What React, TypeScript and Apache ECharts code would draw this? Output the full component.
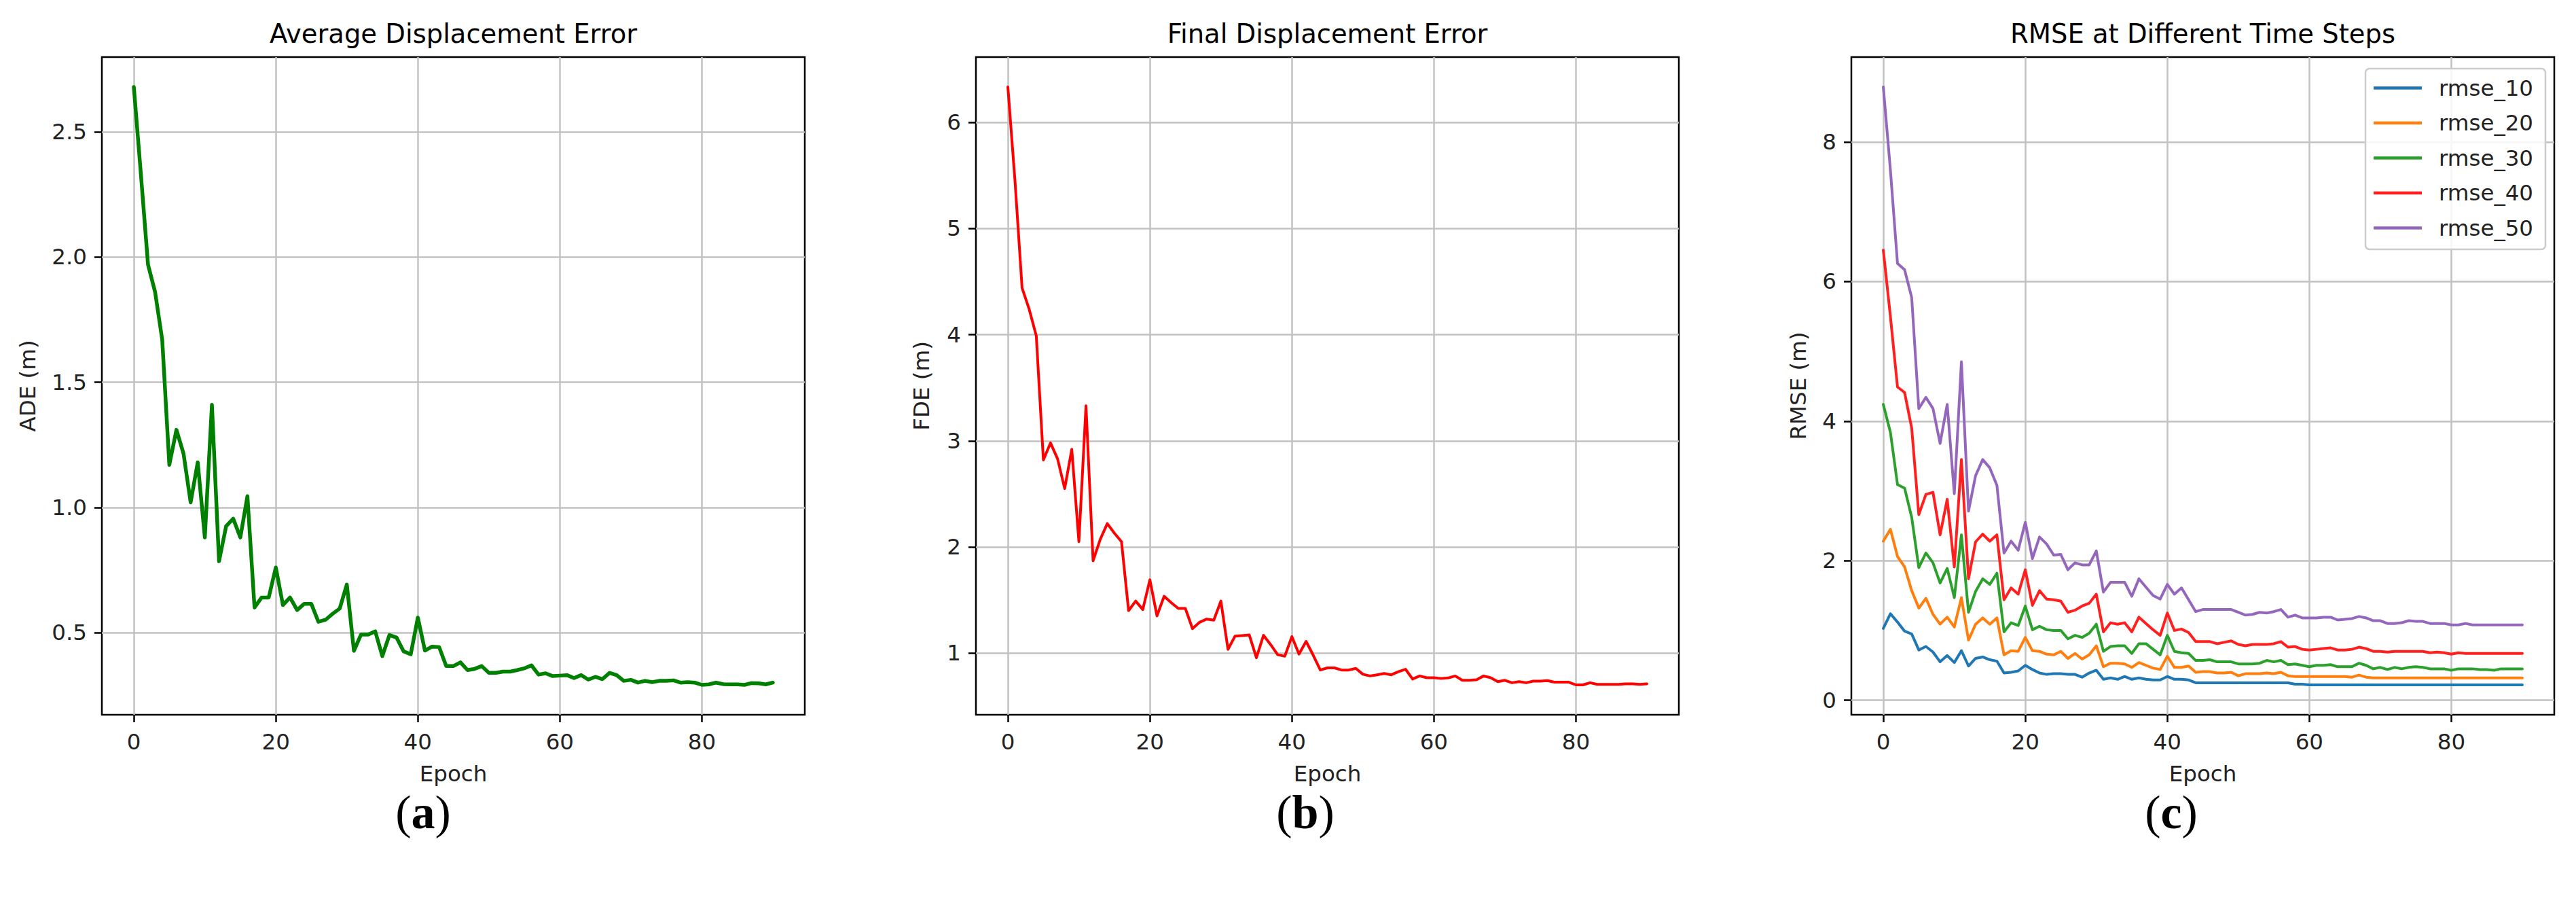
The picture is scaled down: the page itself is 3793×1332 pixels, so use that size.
import React, { useEffect, useRef } from 'react';
import * as echarts from 'echarts';

// ---------------- data ----------------
const EPOCHS = Array.from({ length: 91 }, (_, i) => i);

const ADE = [
  2.68, 2.33, 1.97, 1.86, 1.67, 1.17, 1.31, 1.215, 1.02, 1.18,
  0.88, 1.41, 0.785, 0.925, 0.955, 0.88, 1.045, 0.6, 0.64, 0.64,
  0.76, 0.61, 0.64, 0.59, 0.615, 0.615, 0.543, 0.551, 0.575, 0.596,
  0.692, 0.427, 0.492, 0.492, 0.505, 0.406, 0.49, 0.48, 0.425, 0.413,
  0.56, 0.428, 0.444, 0.442, 0.366, 0.366, 0.381, 0.35, 0.355, 0.366,
  0.339, 0.339, 0.344, 0.344, 0.35, 0.357, 0.369, 0.332, 0.337, 0.326,
  0.328, 0.33, 0.318, 0.33, 0.312, 0.323, 0.314, 0.339, 0.33, 0.307,
  0.311, 0.3, 0.307, 0.302, 0.307, 0.307, 0.309, 0.3, 0.302, 0.3,
  0.291, 0.293, 0.3, 0.294, 0.293, 0.293, 0.291, 0.298, 0.297, 0.293, 0.3,
];

const FDE = [
  6.335, 5.45, 4.44, 4.24, 3.99, 2.82, 2.98, 2.83, 2.55, 2.92,
  2.05, 3.33, 1.87, 2.07, 2.22, 2.13, 2.05, 1.4, 1.49, 1.41,
  1.69, 1.35, 1.535, 1.475, 1.42, 1.42, 1.23, 1.29, 1.32, 1.31,
  1.49, 1.035, 1.16, 1.165, 1.17, 0.955, 1.167, 1.08, 0.984, 0.97,
  1.155, 0.99, 1.11, 0.98, 0.84, 0.86, 0.86, 0.84, 0.84, 0.855,
  0.8, 0.784, 0.795, 0.807, 0.795, 0.824, 0.847, 0.755, 0.784, 0.767,
  0.767, 0.76, 0.765, 0.784, 0.743, 0.743, 0.748, 0.784, 0.767, 0.73,
  0.743, 0.72, 0.73, 0.72, 0.735, 0.735, 0.74, 0.725, 0.725, 0.725,
  0.7, 0.7, 0.72, 0.705, 0.705, 0.705, 0.705, 0.71, 0.71, 0.705, 0.71,
];

const RMSE_10 = [
  1.03, 1.24, 1.12, 0.99, 0.95, 0.72, 0.77, 0.69, 0.55, 0.64,
  0.54, 0.71, 0.49, 0.6, 0.62, 0.58, 0.56, 0.39, 0.4, 0.42,
  0.5, 0.44, 0.39, 0.37, 0.38, 0.38, 0.37, 0.37, 0.33, 0.39,
  0.43, 0.3, 0.32, 0.3, 0.34, 0.3, 0.32, 0.3, 0.29, 0.29,
  0.34, 0.3, 0.3, 0.29, 0.25, 0.25, 0.25, 0.25, 0.25, 0.25,
  0.25, 0.25, 0.25, 0.25, 0.25, 0.25, 0.25, 0.25, 0.23, 0.23,
  0.22, 0.22, 0.22, 0.22, 0.22, 0.22, 0.22, 0.22, 0.22, 0.22,
  0.22, 0.22, 0.22, 0.22, 0.22, 0.22, 0.22, 0.22, 0.22, 0.22,
  0.22, 0.22, 0.22, 0.22, 0.22, 0.22, 0.22, 0.22, 0.22, 0.22, 0.22,
];

const RMSE_20 = [
  2.28, 2.45, 2.06, 1.91, 1.57, 1.32, 1.46, 1.23, 1.09, 1.19,
  1.05, 1.47, 0.86, 1.09, 1.18, 1.09, 1.18, 0.65, 0.71, 0.7,
  0.9, 0.71, 0.7, 0.66, 0.65, 0.7, 0.6, 0.67, 0.59, 0.65,
  0.78, 0.48, 0.53, 0.53, 0.52, 0.47, 0.54, 0.5, 0.46, 0.44,
  0.63, 0.47, 0.47, 0.49, 0.4, 0.41, 0.41, 0.39, 0.39, 0.4,
  0.35, 0.38, 0.38, 0.38, 0.39, 0.38, 0.4, 0.35, 0.34, 0.34,
  0.34, 0.34, 0.34, 0.34, 0.34, 0.34, 0.33, 0.36, 0.33, 0.32,
  0.32, 0.32, 0.32, 0.32, 0.32, 0.32, 0.32, 0.32, 0.32, 0.32,
  0.32, 0.32, 0.32, 0.32, 0.32, 0.32, 0.32, 0.32, 0.32, 0.32, 0.32,
];

const RMSE_30 = [
  4.24, 3.84, 3.09, 3.04, 2.62, 1.9, 2.11, 1.97, 1.68, 1.89,
  1.47, 2.37, 1.26, 1.56, 1.74, 1.66, 1.82, 0.98, 1.11, 1.07,
  1.35, 1.01, 1.06, 1.01, 1.0, 1.0, 0.88, 0.93, 0.9, 0.96,
  1.09, 0.7, 0.77, 0.78, 0.78, 0.67, 0.81, 0.81, 0.73, 0.65,
  0.93, 0.7, 0.68, 0.67, 0.57, 0.57, 0.58, 0.55, 0.55, 0.55,
  0.52, 0.52, 0.52, 0.53, 0.57, 0.55, 0.57, 0.51, 0.52, 0.5,
  0.48, 0.5, 0.5, 0.51, 0.48, 0.48, 0.48, 0.53, 0.5, 0.45,
  0.47, 0.44, 0.47, 0.45, 0.47, 0.48, 0.47, 0.45, 0.45, 0.45,
  0.43, 0.45, 0.45, 0.45, 0.44, 0.44, 0.43, 0.45, 0.45, 0.45, 0.45,
];

const RMSE_40 = [
  6.45, 5.5, 4.49, 4.41, 3.9, 2.66, 2.95, 2.98, 2.37, 2.88,
  1.91, 3.45, 1.74, 2.27, 2.38, 2.28, 2.37, 1.44, 1.61, 1.52,
  1.87, 1.36, 1.57, 1.45, 1.44, 1.42, 1.26, 1.29, 1.35, 1.39,
  1.52, 0.98, 1.11, 1.09, 1.11, 0.98, 1.19, 1.1, 1.01, 0.93,
  1.25, 1.0, 1.02, 0.97, 0.84, 0.84, 0.84, 0.81, 0.83, 0.85,
  0.8, 0.78, 0.8, 0.8, 0.8, 0.81, 0.84, 0.76, 0.77, 0.73,
  0.72, 0.73, 0.74, 0.75, 0.72, 0.72, 0.73, 0.76, 0.74, 0.7,
  0.7, 0.69, 0.7, 0.7, 0.7, 0.7, 0.7, 0.68, 0.69, 0.68,
  0.66, 0.68, 0.67, 0.67, 0.67, 0.67, 0.67, 0.67, 0.67, 0.67, 0.67,
];

const RMSE_50 = [
  8.79, 7.6, 6.26, 6.17, 5.77, 4.18, 4.34, 4.18, 3.68, 4.24,
  2.96, 4.85, 2.71, 3.22, 3.45, 3.33, 3.08, 2.11, 2.28, 2.15,
  2.55, 2.03, 2.34, 2.24, 2.08, 2.09, 1.87, 1.97, 1.94, 1.94,
  2.14, 1.55, 1.69, 1.69, 1.69, 1.49, 1.74, 1.62, 1.5, 1.45,
  1.66, 1.52, 1.61, 1.44, 1.27, 1.3, 1.3, 1.3, 1.3, 1.3,
  1.26, 1.22, 1.23, 1.26, 1.25, 1.27, 1.3, 1.19, 1.22, 1.18,
  1.18, 1.18, 1.19, 1.19, 1.15, 1.16, 1.17, 1.2, 1.18, 1.14,
  1.14, 1.1, 1.1, 1.11, 1.14, 1.13, 1.13, 1.1, 1.1, 1.1,
  1.08, 1.08, 1.1, 1.08, 1.08, 1.08, 1.08, 1.08, 1.08, 1.08, 1.08,
];

const RMSE_NAMES = ['rmse_10', 'rmse_20', 'rmse_30', 'rmse_40', 'rmse_50'];
const RMSE_SERIES = [RMSE_10, RMSE_20, RMSE_30, RMSE_40, RMSE_50];
const RMSE_COLORS = ['#1f77b4', '#ff7f0e', '#2ca02c', '#ff1f1f', '#9467bd'];

const TITLES = ['Average Displacement Error', 'Final Displacement Error', 'RMSE at Different Time Steps'];
const Y_NAMES = ['ADE (m)', 'FDE (m)', 'RMSE (m)'];
const X_NAME = 'Epoch';
const CAPTIONS = ['a', 'b', 'c'];

const X_TICKS = [0, 20, 40, 60, 80];
const ADE_TICKS = [0.5, 1.0, 1.5, 2.0, 2.5];
const FDE_TICKS = [1, 2, 3, 4, 5, 6];
const RMSE_TICKS = [0, 2, 4, 6, 8];

// ---------------- layout ----------------
const W = 3793;
const H = 1332;
const FONT = "'DejaVu Sans', sans-serif";
const SERIF = "'Liberation Serif', 'DejaVu Serif', serif";
const GRID_LEFTS = [150, 1437, 2726];
const GRID_TOP = 84;
const GRID_W = 1035;
const GRID_H = 968;
const Y_NAME_GAPS = [93, 64, 62];
const CAPTION_X = [623, 1922, 3197];
const CAPTION_Y = 1195;
const TICK_FS = 32.5;
const TITLE_FS = 38.5;

function padded(values: number[]): [number, number] {
  let lo = Infinity;
  let hi = -Infinity;
  values.forEach((v) => {
    if (v < lo) lo = v;
    if (v > hi) hi = v;
  });
  const m = (hi - lo) * 0.05;
  return [lo - m, hi + m];
}

export default function App() {
  const ref = useRef<HTMLDivElement>(null);

  useEffect(() => {
    if (!ref.current) return;
    const chart = echarts.init(ref.current, null, { renderer: 'svg', width: W, height: H });

    const [xMin, xMax] = padded(EPOCHS);
    const yRanges = [
      padded(ADE),
      padded(FDE),
      padded(([] as number[]).concat(...RMSE_SERIES)),
    ];
    const yTicks = [ADE_TICKS, FDE_TICKS, RMSE_TICKS];

    const grids = GRID_LEFTS.map((left) => ({
      left,
      top: GRID_TOP,
      width: GRID_W,
      height: GRID_H,
      show: true,
      borderColor: '#000',
      borderWidth: 2.5,
      backgroundColor: 'transparent',
      containLabel: false,
    }));

    const tickStyle = { color: '#000', width: 2.5 };
    const splitStyle = { color: '#c2c2c2', width: 2.5 };
    const labelText = { fontSize: TICK_FS, color: '#222', fontFamily: FONT };

    const xAxes = GRID_LEFTS.map((_, i) => ({
      type: 'value',
      gridIndex: i,
      min: xMin,
      max: xMax,
      name: X_NAME,
      nameLocation: 'middle',
      nameGap: 70,
      nameTextStyle: labelText,
      axisLine: { show: false, onZero: false },
      axisTick: { show: true, length: 11, inside: false, customValues: X_TICKS, lineStyle: tickStyle },
      axisLabel: { ...labelText, margin: 23, customValues: X_TICKS },
      splitLine: { show: true, lineStyle: splitStyle },
    }));

    const yAxes = GRID_LEFTS.map((_, i) => ({
      type: 'value',
      gridIndex: i,
      min: yRanges[i][0],
      max: yRanges[i][1],
      name: Y_NAMES[i],
      nameLocation: 'middle',
      nameRotate: 90,
      nameGap: Y_NAME_GAPS[i],
      nameTextStyle: labelText,
      axisLine: { show: false, onZero: false },
      axisTick: { show: true, length: 11, inside: false, customValues: yTicks[i], lineStyle: tickStyle },
      axisLabel: {
        ...labelText,
        margin: 22,
        customValues: yTicks[i],
        formatter: (v: number) => (i === 0 ? v.toFixed(1) : String(Math.round(v))),
      },
      splitLine: { show: true, lineStyle: splitStyle },
    }));

    const lineSeries = (name: string, values: number[], idx: number, color: string, width: number) => ({
      type: 'line',
      name,
      xAxisIndex: idx,
      yAxisIndex: idx,
      data: EPOCHS.map((e, k) => [e, values[k]]),
      symbol: 'none',
      showSymbol: false,
      silent: true,
      clip: true,
      lineStyle: { color, width, join: 'round', cap: 'round' },
      itemStyle: { color },
    });

    const series = [
      lineSeries('ADE', ADE, 0, '#008000', 5.5),
      lineSeries('FDE', FDE, 1, '#ff0000', 4),
      ...RMSE_SERIES.map((vals, k) => lineSeries(RMSE_NAMES[k], vals, 2, RMSE_COLORS[k], 4)),
    ];

    const titles = TITLES.map((text, i) => ({
      text,
      left: GRID_LEFTS[i] + GRID_W / 2,
      top: 30,
      textAlign: 'center',
      padding: 0,
      textStyle: { fontSize: TITLE_FS, fontWeight: 'normal', color: '#000', fontFamily: FONT },
    }));

    const captions = CAPTIONS.map((c, i) => ({
      type: 'text',
      x: CAPTION_X[i],
      y: CAPTION_Y,
      style: {
        text: '{p|(}{b|' + c + '}{p|)}',
        align: 'center',
        verticalAlign: 'middle',
        rich: {
          p: { fontSize: 70, fontFamily: SERIF, fill: '#000', fontWeight: 'normal' },
          b: { fontSize: 70, fontFamily: SERIF, fill: '#000', fontWeight: 'bold' },
        },
      },
    }));

    chart.setOption({
      animation: false,
      backgroundColor: '#ffffff',
      textStyle: { fontFamily: FONT },
      title: titles,
      grid: grids,
      xAxis: xAxes,
      yAxis: yAxes,
      legend: {
        data: RMSE_NAMES,
        orient: 'vertical',
        left: 3483,
        top: 101,
        padding: [12, 18, 15, 12],
        icon: 'rect',
        itemWidth: 71,
        itemHeight: 4.5,
        itemGap: 18.5,
        backgroundColor: 'rgba(255,255,255,0.85)',
        borderColor: '#cccccc',
        borderWidth: 2.5,
        borderRadius: 6,
        selectedMode: false,
        textStyle: { fontSize: TICK_FS, color: '#222', fontFamily: FONT, lineHeight: 32.5, padding: [0, 0, 0, 20] },
      },
      series,
      graphic: captions,
    });

    return () => {
      chart.dispose();
    };
  }, []);

  return (
    <div
      ref={ref}
      style={{ position: 'absolute', left: 0, top: 0, width: W, height: H, background: '#fff' }}
    />
  );
}
